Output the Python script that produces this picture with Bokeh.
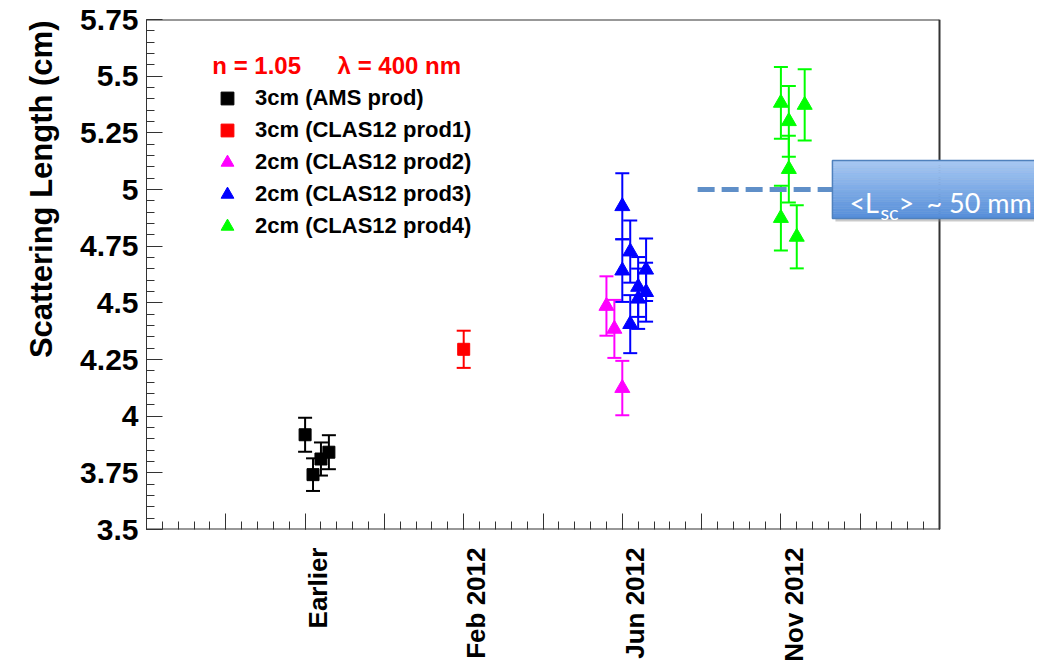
import numpy as np
from math import pi
from bokeh.plotting import figure
from bokeh.models import (Range1d, LinearAxis, FixedTicker, ColumnDataSource,
                          Whisker, TeeHead, Legend, LegendItem, Title)
from bokeh.core.properties import value
from bokeh.embed import file_html
from bokeh.resources import INLINE

# ---------------- data ----------------
period_pos = [2, 4, 6, 8]
period_labels = ["Earlier", "Feb 2012", "Jun 2012", "Nov 2012"]

ams_x = [2.0, 2.1, 2.2, 2.3]
ams_y = [3.918, 3.742, 3.811, 3.841]
ams_err = [0.075, 0.072, 0.073, 0.075]

prod1_x = [4.0]
prod1_y = [4.295]
prod1_err = [0.082]

prod2_x = [5.8, 5.9, 6.0]
prod2_y = [4.486, 4.385, 4.124]
prod2_err = [0.131, 0.128, 0.120]

prod3_x = [6.0, 6.0, 6.1, 6.1, 6.2, 6.2, 6.3, 6.3]
prod3_y = [4.926, 4.642, 4.726, 4.406, 4.570, 4.518, 4.646, 4.547]
prod3_err = [0.146, 0.138, 0.137, 0.128, 0.132, 0.133, 0.138, 0.130]

prod4_x = [8.0, 8.1, 8.1, 8.3, 8.0, 8.2]
prod4_y = [5.382, 5.301, 5.090, 5.373, 4.874, 4.791]
prod4_err = [0.158, 0.156, 0.147, 0.157, 0.143, 0.139]

series_names = ["3cm (AMS prod)", "3cm (CLAS12 prod1)", "2cm (CLAS12 prod2)",
                "2cm (CLAS12 prod3)", "2cm (CLAS12 prod4)"]

y_ticks = [3.5, 3.75, 4.0, 4.25, 4.5, 4.75, 5.0, 5.25, 5.5, 5.75]
y_tick_labels = ["3.5", "3.75", "4", "4.25", "4.5", "4.75", "5", "5.25", "5.5", "5.75"]
y_title = "Scattering Length (cm)"
x_axis_max = 10
mean_lsc = 5.0
header_left = "n = 1.05"
header_right = "\u03bb = 400 nm"
callout_pre, callout_sub, callout_post, callout_val = "<L", "sc", ">", "~ 50 mm"

# ---------------- layout / style ----------------
W, H = 1034, 664
B_LEFT, B_TOP, B_BOTTOM = 146, 19, 133
PX_PER_X = 79.3
PX_PER_Y = (H - B_TOP - B_BOTTOM) / (y_ticks[-1] - y_ticks[0])
x_max = (W - B_LEFT) / PX_PER_X
FONT = "Liberation Sans"
AX = "#333333"

p = figure(width=W, height=H, output_backend="svg", toolbar_location=None,
           x_range=Range1d(0, x_max), y_range=Range1d(y_ticks[0], y_ticks[-1]),
           min_border_left=B_LEFT, min_border_right=0, min_border_top=B_TOP,
           min_border_bottom=B_BOTTOM)
p.outline_line_color = None
p.xgrid.visible = False
p.ygrid.visible = False
p.background_fill_color = "white"
p.border_fill_color = "white"

# y axis
yax = p.yaxis[0]
yax.ticker = FixedTicker(ticks=y_ticks,
                         minor_ticks=list(np.round(np.arange(3.5, 5.7501, 0.05), 3)))
yax.major_label_overrides = dict(zip(y_ticks, y_tick_labels))
yax.major_label_text_font = FONT
yax.major_label_text_font_style = "bold"
yax.major_label_text_font_size = "30px"
yax.major_label_text_color = "black"
yax.major_label_standoff = 8
yax.major_tick_in = 16
yax.major_tick_out = 0
yax.minor_tick_in = 8
yax.minor_tick_out = 0
yax.axis_line_color = AX
yax.major_tick_line_color = AX
yax.minor_tick_line_color = AX

# y title, top-aligned like the original
ttl = Title(text=y_title, align="right", offset=1, text_font=FONT, text_font_style="bold",
            text_font_size="31px", text_color="black", standoff=38)
p.add_layout(ttl, "left")

# x tick axis (ticks only)
xax = p.xaxis[0]
xax.ticker = FixedTicker(ticks=list(range(0, x_axis_max + 1)),
                         minor_ticks=list(np.round(np.arange(0, x_axis_max + 0.001, 0.2), 3)))
xax.major_label_overrides = {i: "" for i in range(0, x_axis_max + 1)}
xax.major_label_text_font_size = "0px"
xax.major_label_standoff = 0
xax.major_tick_in = 16
xax.major_tick_out = 0
xax.minor_tick_in = 8
xax.minor_tick_out = 0
xax.axis_line_color = None
xax.major_tick_line_color = AX
xax.minor_tick_line_color = AX

# x label axis (labels only), slightly shifted
LABEL_SHIFT = 0.16
p.extra_x_ranges = {"lab": Range1d(-LABEL_SHIFT, x_max - LABEL_SHIFT)}
lab = LinearAxis(x_range_name="lab", ticker=FixedTicker(ticks=period_pos, minor_ticks=[]))
lab.major_label_overrides = dict(zip(period_pos, period_labels))
lab.major_label_orientation = pi / 2
lab.major_label_text_font = FONT
lab.major_label_text_font_style = "bold"
lab.major_label_text_font_size = "26px"
lab.major_label_text_color = "black"
lab.major_label_standoff = 18
lab.major_tick_in = 0
lab.major_tick_out = 0
lab.minor_tick_in = 0
lab.minor_tick_out = 0
lab.axis_line_color = None
lab.major_tick_line_color = None
p.add_layout(lab, "below")

# frame (top, bottom, right)
p.segment(x0=[0, 0, x_axis_max], y0=[y_ticks[0], y_ticks[-1], y_ticks[0]],
          x1=[x_axis_max, x_axis_max, x_axis_max], y1=[y_ticks[0], y_ticks[-1], y_ticks[-1]],
          line_color=AX, line_width=2)

# mean dashed line
CALLOUT_LEFT = 8.65
p.segment(x0=[6.95], y0=[mean_lsc], x1=[CALLOUT_LEFT], y1=[mean_lsc],
          line_color="#5f8fc8", line_width=5, line_dash="17 7")

# data series
series = [
    (series_names[0], ams_x, ams_y, ams_err, "black", "square", 12),
    (series_names[1], prod1_x, prod1_y, prod1_err, "#ff0000", "square", 12),
    (series_names[2], prod2_x, prod2_y, prod2_err, "#ff00ff", "triangle", 15),
    (series_names[3], prod3_x, prod3_y, prod3_err, "#0000ff", "triangle", 15),
    (series_names[4], prod4_x, prod4_y, prod4_err, "#00ff00", "triangle", 15),
]
items = []
for name, xs, ys, es, col, mk, sz in series:
    src = ColumnDataSource(dict(x=xs, y=ys,
                                lo=[a - b for a, b in zip(ys, es)],
                                hi=[a + b for a, b in zip(ys, es)]))
    w = Whisker(source=src, base="x", lower="lo", upper="hi", dimension="height",
                line_color=col, line_width=2,
                upper_head=TeeHead(size=14, line_color=col, line_width=2),
                lower_head=TeeHead(size=14, line_color=col, line_width=2))
    p.add_layout(w)
    r = p.scatter("x", "y", source=src, marker=mk, size=sz, fill_color=col, line_color=col)
    items.append(LegendItem(label=name, renderers=[r]))

legend = Legend(items=items, location=(65, 287), border_line_color=None,
                background_fill_alpha=0, padding=0, margin=0, spacing=0,
                glyph_width=32, glyph_height=32, label_height=32, label_standoff=12,
                label_text_font=FONT, label_text_font_style="bold",
                label_text_font_size="22px", label_text_color="black")
p.add_layout(legend, "center")

# header text
p.text(x=[0.83], y=[5.548], text=[header_left], text_color="#ff0000",
       text_font=value(FONT), text_font_style="bold", text_font_size="24px",
       text_baseline="alphabetic")
p.text(x=[2.41], y=[5.548], text=[header_right], text_color="#ff0000",
       text_font=value(FONT), text_font_style="bold", text_font_size="24px",
       text_baseline="alphabetic")

# callout box (gradient)
box_half = 29 / PX_PER_Y
sx, sy = 3 / PX_PER_X, 3 / PX_PER_Y
p.quad(left=[CALLOUT_LEFT + sx], right=[x_max + 1], bottom=[mean_lsc - box_half - sy],
       top=[mean_lsc + box_half - sy], fill_color="#8a8a8a", fill_alpha=0.45, line_color=None)
n_strip = 24
top_rgb = np.array([0xa8, 0xc9, 0xf3])
bot_rgb = np.array([0x55, 0x8e, 0xda])
edges = np.linspace(mean_lsc - box_half, mean_lsc + box_half, n_strip + 1)
cols = []
for i in range(n_strip):
    t = (i + 0.5) / n_strip
    c = (bot_rgb * (1 - t) + top_rgb * t).astype(int)
    cols.append("#%02x%02x%02x" % tuple(c))
p.quad(left=[CALLOUT_LEFT] * n_strip, right=[x_max + 1] * n_strip,
       bottom=list(edges[:-1]), top=list(edges[1:]), fill_color=cols, line_color=cols,
       line_width=0.5)
p.quad(left=[CALLOUT_LEFT], right=[x_max + 1], bottom=[mean_lsc - box_half],
       top=[mean_lsc + box_half], fill_color=None, line_color="#4f81bd", line_width=1.5)

CF = "Lato"
p.text(x=[CALLOUT_LEFT], y=[mean_lsc], text=[callout_pre], x_offset=17, y_offset=13,
       text_color="white", text_font=value(CF), text_font_size="27px", text_baseline="alphabetic")
p.text(x=[CALLOUT_LEFT], y=[mean_lsc], text=[callout_sub], x_offset=48, y_offset=22,
       text_color="white", text_font=value(CF), text_font_size="20px", text_baseline="alphabetic")
p.text(x=[CALLOUT_LEFT], y=[mean_lsc], text=[callout_post], x_offset=66, y_offset=13,
       text_color="white", text_font=value(CF), text_font_size="27px", text_baseline="alphabetic")
p.text(x=[CALLOUT_LEFT], y=[mean_lsc], text=[callout_val], x_offset=94, y_offset=13,
       text_color="white", text_font=value(CF), text_font_size="27px", text_baseline="alphabetic")

open("out.html", "w").write(file_html(p, INLINE))
